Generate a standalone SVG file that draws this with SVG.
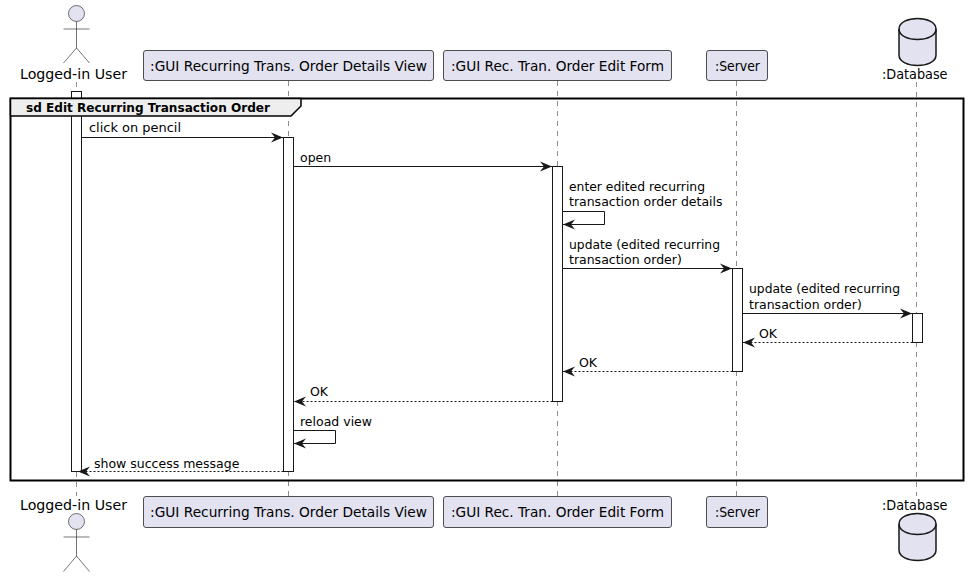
<svg xmlns="http://www.w3.org/2000/svg" width="968" height="577" viewBox="0 0 968 577">
<style>
text{font-family:"DejaVu Sans",Verdana,sans-serif;fill:#000}
.n{font-size:14px}
.m{font-size:12.5px}
.b{fill:#E2E2F0;stroke:#181818;stroke-width:.75}
.ac{fill:#E2E2F0;stroke:#181818;stroke-width:.6}
.al{fill:none;stroke:#181818;stroke-width:.6}
.db{fill:#E2E2F0;stroke:#181818;stroke-width:1.5}
.dbl{fill:none;stroke:#181818;stroke-width:1.5}
.life{stroke:#181818;stroke-width:.5;stroke-dasharray:5 5;fill:none}
.act{fill:#fff;stroke:#181818;stroke-width:1}
.c{fill:none;stroke:#181818;stroke-width:1}
.d{stroke-dasharray:2 2}
</style>
<defs>
<marker id="h" markerUnits="userSpaceOnUse" markerWidth="14" markerHeight="12" refX="13" refY="6" orient="auto-start-reverse" viewBox="0 0 14 12"><path d="M1 1L13 6L1 11L5 6Z" fill="#181818"/></marker>
</defs>
<rect width="968" height="577" fill="#fff"/>
<g id="lifelines">
<path class="life" d="M76.5 82V496"/>
<path class="life" d="M288.5 81V496"/>
<path class="life" d="M557.5 81V496"/>
<path class="life" d="M736.5 81V496"/>
<path class="life" d="M916.5 82V496"/>
</g>
<g id="activations">
<rect class="act" x="71.5" y="91.5" width="10" height="380"/>
<rect class="act" x="283.5" y="137.5" width="10" height="334"/>
<rect class="act" x="552.5" y="166.5" width="10" height="235"/>
<rect class="act" x="732.5" y="268.5" width="10" height="103"/>
<rect class="act" x="912.5" y="313.5" width="10" height="29"/>
</g>
<g id="frame">
<rect x="10.5" y="98.5" width="953" height="382" fill="none" stroke="#000" stroke-width="2"/>
<path d="M10.5 98.5H301V106L291 116H10.5Z" fill="#EEE" stroke="#000" stroke-width="1.5"/>
<text x="26" y="112" font-size="12" font-weight="700" textLength="244" lengthAdjust="spacingAndGlyphs">sd Edit Recurring Transaction Order</text>
</g>
<g id="connectors">
<path class="c" marker-end="url(#h)" d="M81.5 137.5H283"/>
<path class="c" marker-end="url(#h)" d="M293.5 166.5H552"/>
<path class="c" marker-end="url(#h)" d="M562.5 211.5H604.5V224.5H563"/>
<path class="c" marker-end="url(#h)" d="M562.5 268.5H732"/>
<path class="c" marker-end="url(#h)" d="M742.5 313.5H912"/>
<path class="c d" marker-end="url(#h)" d="M912.5 342.5H743"/>
<path class="c d" marker-end="url(#h)" d="M732.5 371.5H563"/>
<path class="c d" marker-end="url(#h)" d="M552.5 401.5H294"/>
<path class="c" marker-end="url(#h)" d="M293.5 430.5H335.5V443.5H294"/>
<path class="c d" marker-end="url(#h)" d="M283.5 471.5H78"/>
<text class="m" x="89" y="132" textLength="92" lengthAdjust="spacingAndGlyphs">click on pencil</text>
<text class="m" x="300" y="162">open</text>
<text class="m" x="569" y="191" textLength="136" lengthAdjust="spacingAndGlyphs">enter edited recurring</text>
<text class="m" x="569" y="206">transaction order details</text>
<text class="m" x="569" y="249" textLength="151" lengthAdjust="spacingAndGlyphs">update (edited recurring</text>
<text class="m" x="569" y="264">transaction order)</text>
<text class="m" x="749" y="293" textLength="151" lengthAdjust="spacingAndGlyphs">update (edited recurring</text>
<text class="m" x="749" y="309">transaction order)</text>
<text class="m" x="759" y="338">OK</text>
<text class="m" x="579" y="367">OK</text>
<text class="m" x="310" y="396">OK</text>
<text class="m" x="300" y="426">reload view</text>
<text class="m" x="94" y="468">show success message</text>
</g>
<g id="actor-top">
<circle class="ac" cx="76.5" cy="13.5" r="8"/>
<path class="al" d="M76.5 21.5V48M63.5 29H89.5M63.5 63L76.5 48L89.5 63"/>
<text class="n" x="20" y="78.5" textLength="107" lengthAdjust="spacingAndGlyphs">Logged-in User</text>
</g>
<g id="gui-details-top">
<rect class="b" x="143.5" y="50.5" width="290" height="30" rx="2.5"/>
<text class="n" x="150" y="71" textLength="277" lengthAdjust="spacingAndGlyphs">:GUI Recurring Trans. Order Details View</text>
</g>
<g id="gui-form-top">
<rect class="b" x="443.5" y="50.5" width="228" height="30" rx="2.5"/>
<text class="n" x="451" y="71" textLength="213" lengthAdjust="spacingAndGlyphs">:GUI Rec. Tran. Order Edit Form</text>
</g>
<g id="server-top">
<rect class="b" x="706.5" y="50.5" width="61" height="30" rx="2.5"/>
<text class="n" x="715" y="71" textLength="45" lengthAdjust="spacingAndGlyphs">:Server</text>
</g>
<g id="database-top">
<path class="db" d="M899 29C899 15 936 15 936 29V55C936 69 899 69 899 55Z"/>
<path class="dbl" d="M899 29C899 43 936 43 936 29"/>
<text class="n" x="882" y="78.5" textLength="65.5" lengthAdjust="spacingAndGlyphs">:Database</text>
</g>
<g id="actor-bottom">
<text class="n" x="20" y="509.5" textLength="107" lengthAdjust="spacingAndGlyphs">Logged-in User</text>
<circle class="ac" cx="76.5" cy="521.5" r="8"/>
<path class="al" d="M76.5 529.5V556M63.5 537H89.5M63.5 571.5L76.5 556L89.5 571.5"/>
</g>
<g id="gui-details-bottom">
<rect class="b" x="143.5" y="496.5" width="290" height="31" rx="2.5"/>
<text class="n" x="150" y="517" textLength="277" lengthAdjust="spacingAndGlyphs">:GUI Recurring Trans. Order Details View</text>
</g>
<g id="gui-form-bottom">
<rect class="b" x="443.5" y="496.5" width="228" height="31" rx="2.5"/>
<text class="n" x="451" y="517" textLength="213" lengthAdjust="spacingAndGlyphs">:GUI Rec. Tran. Order Edit Form</text>
</g>
<g id="server-bottom">
<rect class="b" x="706.5" y="496.5" width="61" height="31" rx="2.5"/>
<text class="n" x="715" y="517" textLength="45" lengthAdjust="spacingAndGlyphs">:Server</text>
</g>
<g id="database-bottom">
<text class="n" x="882" y="509.5" textLength="65.5" lengthAdjust="spacingAndGlyphs">:Database</text>
<path class="db" d="M899 524C899 510 936 510 936 524V550C936 564 899 564 899 550Z"/>
<path class="dbl" d="M899 524C899 538 936 538 936 524"/>
</g>
</svg>
